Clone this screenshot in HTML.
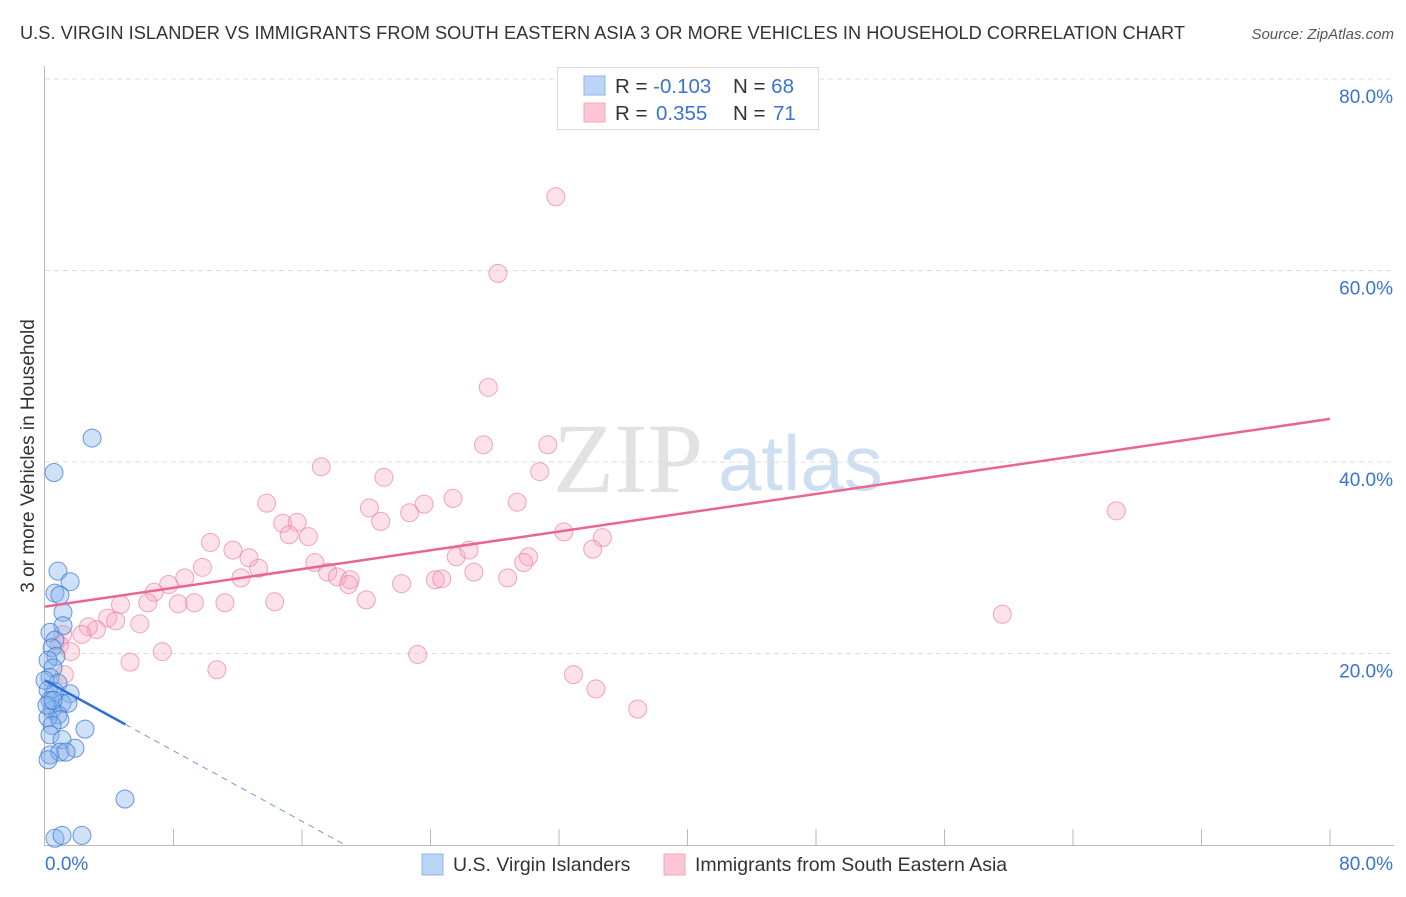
<!DOCTYPE html>
<html><head><meta charset="utf-8"><style>
body{margin:0;background:#fff;font-family:"Liberation Sans",sans-serif;}
svg text{font-family:"Liberation Sans",sans-serif;}
</style></head><body>
<svg id="chart" width="1406" height="892" xmlns="http://www.w3.org/2000/svg">
<text x="20" y="39" font-size="18.2" fill="#333" textLength="1165">U.S. VIRGIN ISLANDER VS IMMIGRANTS FROM SOUTH EASTERN ASIA 3 OR MORE VEHICLES IN HOUSEHOLD CORRELATION CHART</text>
<text x="1394" y="39" font-size="15" fill="#555" font-style="italic" text-anchor="end">Source: ZipAtlas.com</text>
<text x="0" y="0" transform="translate(34,456) rotate(-90)" font-size="19" fill="#333" text-anchor="middle">3 or more Vehicles in Household</text>
<text x="553" y="492" font-size="100" fill="#e2e2e2" style="font-family:'Liberation Serif',serif">ZIP</text>
<text x="718" y="490" font-size="78" fill="#cfdff2">atlas</text>
<g id="grid"></g>
<g id="marks"></g>
<g>
<rect x="557.5" y="67.5" width="261" height="62" fill="#fff" stroke="#ddd"/>
<rect x="584" y="76" width="21" height="19" fill="#bcd4f6" stroke="#8fb4ea"/>
<rect x="584" y="103" width="21" height="19" fill="#fcc6d4" stroke="#f3a4b9"/>
<text x="615" y="93" font-size="20.5" fill="#333">R = <tspan fill="#3a73d4">-0.103</tspan><tspan x="733">N = </tspan><tspan fill="#3a73d4">68</tspan></text>
<text x="615" y="120" font-size="20.5" fill="#333">R = <tspan x="656" fill="#3a73d4">0.355</tspan><tspan x="733">N = </tspan><tspan x="773" fill="#3a73d4">71</tspan></text>
</g>
<g>
<rect x="422" y="854" width="21" height="21" fill="#bcd4f6" stroke="#8fb4ea"/>
<text x="453" y="871" font-size="19.5" fill="#333">U.S. Virgin Islanders</text>
<rect x="664" y="854" width="21" height="21" fill="#fcc6d4" stroke="#f3a4b9"/>
<text x="695" y="871" font-size="19.5" fill="#333">Immigrants from South Eastern Asia</text>
</g>
</svg>
<script>
const blueX=[2.93,0.56,0.81,1.56,0.62,0.93,1.12,1.12,0.31,0.62,0.44,0.68,0.19,0.5,0.31,0.81,0.19,0.62,1.56,0.31,1.06,1.43,0.44,0.81,0.19,0.93,0.44,2.49,0.31,1.06,0.31,0.93,1.87,1.31,0.19,4.98,0.62,1.06,2.3,0.0,0.12,0.5];
const blueY=[42.5,38.9,28.6,27.5,26.3,26.1,24.3,22.9,22.2,21.4,20.6,19.7,19.3,18.5,17.5,16.9,16.2,16.0,15.8,15.1,14.8,14.8,14.1,13.6,13.3,13.1,12.5,12.1,11.5,11.0,9.4,9.7,10.1,9.7,8.9,4.8,0.7,1.0,1.0,17.2,14.6,15.1];
const pinkX=[31.8,28.2,27.6,27.3,31.3,17.2,30.8,21.1,13.8,20.2,25.4,23.6,29.4,22.7,20.9,14.8,15.7,15.2,16.4,10.3,11.7,12.7,13.3,9.8,12.2,7.7,8.7,6.8,16.8,17.6,18.2,19.0,18.9,22.2,24.3,24.7,26.7,25.6,26.4,30.1,29.8,28.8,32.3,34.7,34.1,20.0,14.3,11.2,8.3,9.3,6.4,4.7,3.9,4.4,5.9,3.2,2.7,2.3,1.1,0.9,1.6,7.3,5.3,10.7,23.2,32.9,34.3,36.9,66.7,59.6,1.2];
const pinkY=[67.7,59.7,47.8,41.8,41.8,39.5,39.0,38.4,35.7,35.2,36.2,35.6,35.8,34.7,33.8,33.6,33.7,32.4,32.2,31.6,30.8,30.0,28.9,29.0,27.9,27.2,27.9,26.4,29.5,28.5,28.0,27.7,27.2,27.3,27.7,27.8,28.5,30.1,30.8,30.1,29.5,27.9,32.7,32.1,30.9,25.6,25.4,25.3,25.2,25.3,25.3,25.1,23.7,23.4,23.1,22.5,22.8,22.0,22.0,20.9,20.2,20.2,19.1,18.3,19.9,17.8,16.3,14.2,34.9,24.1,17.8];
const yTicks=[20,40,60,80];
const xTickCount=10;
const pinkLine=[24.9,44.5];
const blueLine={b:17.2,m:-0.92,solidEnd:5.0};
const NS="http://www.w3.org/2000/svg";
const X=v=>45+v/80*1285, Y=v=>845-v/20*191.5;
const grid=document.getElementById('grid'), marks=document.getElementById('marks');
function mk(tag,attrs,parent){const e=document.createElementNS(NS,tag);for(const k in attrs)e.setAttribute(k,attrs[k]);parent.appendChild(e);return e;}
let ax=mk('line',{x1:44.5,y1:66,x2:44.5,y2:846,stroke:'#bbb'},grid);


let bx=mk('line',{x1:44,y1:845.5,x2:1394,y2:845.5,stroke:'#bbb'},grid);


yTicks.forEach(t=>{
 let g=mk('line',{x1:45,x2:1394,y1:Y(t),y2:Y(t),stroke:'#ddd','stroke-dasharray':'5,4'},grid);
 
 
 let tx=mk('text',{x:1393,y:Y(t)+24,'font-size':19,fill:'#3a73d4','text-anchor':'end'},grid);tx.textContent=t.toFixed(1)+'%';
 
 
});
for(let i=1;i<=xTickCount;i++){let v=i*8;let t=mk('line',{x1:X(v),x2:X(v),y1:829,y2:845,stroke:'#bbb'},grid);
 
 }
let x0=mk('text',{x:45,y:870,'font-size':19,fill:'#3a73d4'},grid);x0.textContent='0.0%';


let x1=mk('text',{x:1393,y:870,'font-size':19,fill:'#3a73d4','text-anchor':'end'},grid);x1.textContent='80.0%';


pinkX.forEach((v,i)=>{let c=mk('circle',{cx:X(v),cy:Y(pinkY[i]),r:9,fill:'rgba(248,170,192,0.35)',stroke:'rgba(236,130,160,0.7)','stroke-width':1},marks);
 
 });
blueX.forEach((v,i)=>{let c=mk('circle',{cx:X(v),cy:Y(blueY[i]),r:9,fill:'rgba(130,175,235,0.38)',stroke:'rgba(60,120,210,0.75)','stroke-width':1},marks);
 
 });
let pl=mk('line',{x1:X(0),y1:Y(pinkLine[0]),x2:X(80),y2:Y(pinkLine[1]),stroke:'#e8668f','stroke-width':2.5},marks);


let zx=-blueLine.b/blueLine.m;
let bl=mk('line',{x1:X(0),y1:Y(blueLine.b),x2:X(blueLine.solidEnd),y2:Y(blueLine.b+blueLine.m*blueLine.solidEnd),stroke:'#2f6fd6','stroke-width':2.5},marks);


let bd=mk('line',{x1:X(blueLine.solidEnd),y1:Y(blueLine.b+blueLine.m*blueLine.solidEnd),x2:X(zx),y2:Y(0),stroke:'#6f9be0','stroke-width':1,'stroke-dasharray':'6,5'},marks);


</script>
</body></html>
